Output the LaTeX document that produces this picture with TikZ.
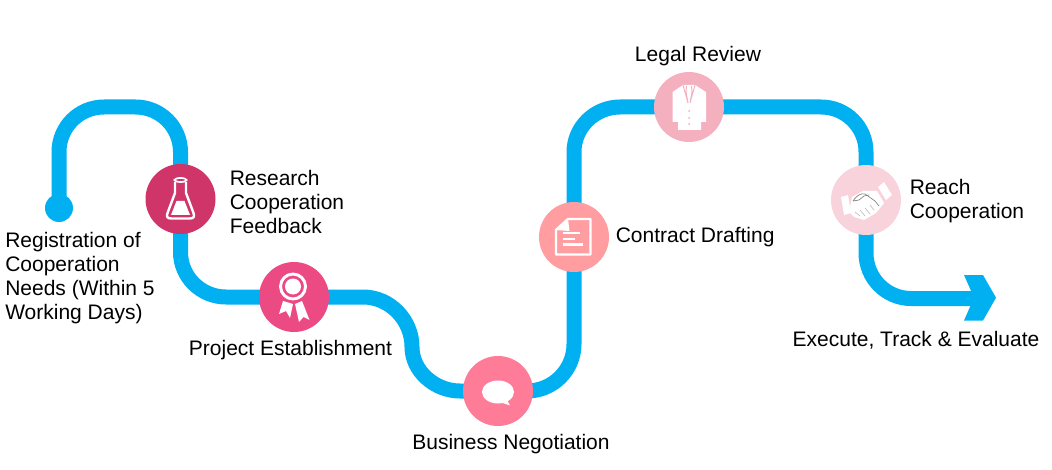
\documentclass[tikz,border=0pt]{standalone}
\usepackage{fontspec}
\setmainfont{Liberation Sans}
\usetikzlibrary{calc}
\pgfdeclarelayer{route}
\pgfdeclarelayer{icons}
\pgfsetlayers{route,main,icons}
\definecolor{routeblue}{HTML}{00B0F0}
\definecolor{stepa}{HTML}{CF3569}
\definecolor{stepb}{HTML}{EC4A82}
\definecolor{stepc}{HTML}{FF7C98}
\definecolor{stepd}{HTML}{FF9DA1}
\definecolor{stepe}{HTML}{F5B0BF}
\definecolor{stepf}{HTML}{F9D3DC}
\tikzset{
  route/.style={draw=routeblue,line width=11.25pt},
  stepdisc/.style={circle,minimum size=52.5pt,inner sep=0pt,fill=#1},
  caption/.style={align=left,font=\fontsize{15.75}{18}\selectfont,inner sep=0pt},
  iconline/.style={draw=white,line width=1.8pt,line join=round}
}
\begin{document}
\begin{tikzpicture}[x=0.75pt,y=-0.75pt]
\useasboundingbox (0,0) rectangle (1052,470);

% process steps
\node[circle,minimum size=21pt,inner sep=0pt,fill=routeblue] (start) at (59,208) {};
\node[stepdisc=stepa] (research) at (180.5,199) {};
\node[stepdisc=stepb] (project) at (294,297) {};
\node[stepdisc=stepc] (business) at (498,391) {};
\node[stepdisc=stepd] (contract) at (574,237) {};
\node[stepdisc=stepe] (legal) at (689,107) {};
\node[stepdisc=stepf] (reach) at (866,200) {};
\coordinate (tail) at (975,298.5);

% route between the steps: straight runs joined by circular corners
\begin{pgfonlayer}{route}
  \draw[route] (start.center) -- (59,152) .. controls (59,127) and (79,107) .. (104,107)
    -- (135.5,107) .. controls (160.4,107) and (180.5,127) .. (180.5,152) -- (research.center);
  \draw[route] (research.center) -- (180.5,252) .. controls (180.5,277) and (201,297) .. (226,297)
    -- (project.center);
  \draw[route] (project.center) -- (363,297) .. controls (390,297) and (412,320) .. (412,347)
    .. controls (412,371.3) and (435,391) .. (460,391) -- (business.center);
  \draw[route] (business.center) -- (527,391) .. controls (553,391) and (574,370) .. (574,344)
    -- (contract.center);
  \draw[route] (contract.center) -- (574,152) .. controls (574,127) and (595,107) .. (620,107)
    -- (legal.center);
  \draw[route] (legal.center) -- (821,107) .. controls (845.9,107) and (866,127) .. (866,152)
    -- (reach.center);
  \draw[route] (reach.center) -- (866,253) .. controls (866,278) and (886,298.5) .. (911,298.5)
    -- (tail);
  \fill[routeblue] (964,275) -- (983,275) -- (996,297.7) -- (983,320.5) -- (964,320.5)
    -- (974,297.7) -- cycle;
\end{pgfonlayer}

% step icons
\begin{pgfonlayer}{icons}
  % flask
  \begin{scope}[shift={(research.center)}]
    \draw[iconline] (-5.5,-17) -- (-5.5,-6) -- (-13,14) .. controls (-14.5,18) and (-13,19.5) .. (-9,19.5)
      -- (9,19.5) .. controls (13,19.5) and (14.5,18) .. (13,14) -- (5.5,-6) -- (5.5,-17);
    \draw[white,line width=1.3pt] (0,-19) ellipse [x radius=6,y radius=2];
    \fill[white] (-4,2) -- (4,2) -- (9.5,16) -- (-9.5,16) -- cycle;
  \end{scope}
  % rosette
  \begin{scope}[shift={(project.center)}]
    \draw[white,line width=2.2pt] (-1,-10.5) circle [radius=12.5];
    \fill[white] (-1,-10.5) circle [radius=8];
    \fill[white] (-11,4) -- (-1,7) -- (-4,21) -- (-8,14) -- (-15,17) -- cycle;
    \fill[white] (8,4) -- (1,7) -- (5,25) -- (9.5,20) -- (15.5,23) -- cycle;
  \end{scope}
  % speech bubble
  \begin{scope}[shift={(business.center)}]
    \fill[white] (0,1) ellipse [x radius=16,y radius=11.5];
    \fill[white] (9,9) -- (12,14.5) -- (3,11.5) -- cycle;
  \end{scope}
  % document with a solid folded corner
  \begin{scope}[shift={(contract.center)}]
    \draw[iconline] (-18,-7) -- (-6,-18) -- (16.5,-18) -- (16.5,17.5) -- (-18,17.5) -- cycle;
    \fill[white] (-18,-7) -- (-6,-18) -- (-4.5,-6) -- cycle;
    \draw[white,line width=1.6pt] (-11,-4) -- (6,-4) (-11,2) -- (1,2) (-11,7.5) -- (9,7.5);
  \end{scope}
  % waistcoat
  \begin{scope}[shift={(legal.center)}]
    \fill[white] (-16.5,-15) -- (-6,-22) -- (6,-22) -- (17,-15) -- (17,15) -- (12,15) -- (12,23)
      -- (-11,23) -- (-11,15) -- (-16.5,15) -- cycle;
    \draw[stepe,line width=0.7pt] (-6,-22) -- (-1,-4) (6,-22) -- (1,-4)
      (-3,-15) -- (-1,-4) (3,-15) -- (1,-4) (-3,-15) -- (-2.5,-21) (3,-15) -- (2.5,-21);
    \fill[stepe] (0,4) circle [radius=1] (0,11) circle [radius=1] (0,17) circle [radius=1];
  \end{scope}
  % handshake
  \begin{scope}[shift={(reach.center)}]
    \fill[white] (-25,-3) -- (-18,-5) -- (-15,13) -- (-22,15) -- cycle;
    \fill[white] (12,-13) -- (18,-18) -- (26,-5) -- (20,0) -- cycle;
    \fill[white] (-14,-3) -- (-3,-9) -- (11,-9) -- (18,3) -- (10,13) -- (-2,20) -- (-12,17)
      -- (-17,12) -- cycle;
    \draw[gray,line width=0.5pt] (-13,1) .. controls (-9,-5) and (-5,-7) .. (-1,-6)
      -- (9,1) -- (13,6);
    \draw[gray,line width=0.5pt] (-13,1) -- (-7,0) -- (-2,-4) -- (3,-5);
    \draw[lightgray,line width=0.5pt] (-11,12) -- (-6,16) (-6,10) -- (-1,16) (-1,8) -- (4,14)
      (4,5) -- (8,10);
  \end{scope}
\end{pgfonlayer}

% captions
\node[caption,anchor=north west] (t1) at (5,232) {Registration of\\Cooperation\\Needs (Within 5\\Working Days)};
\node[caption,anchor=west] (t2) at (229.5,202) {Research\\Cooperation\\Feedback};
\node[caption,anchor=center] (t3) at (290.5,350) {Project Establishment};
\node[caption,anchor=center] (t4) at (511,444) {Business Negotiation};
\node[caption,anchor=west] (t5) at (615.5,237) {Contract Drafting};
\node[caption,anchor=center] (t6) at (698,56) {Legal Review};
\node[caption,anchor=west] (t7) at (909.5,201) {Reach\\Cooperation};
\node[caption,anchor=center] (t8) at (916,340) {Execute, Track \& Evaluate};
\end{tikzpicture}
\end{document}
